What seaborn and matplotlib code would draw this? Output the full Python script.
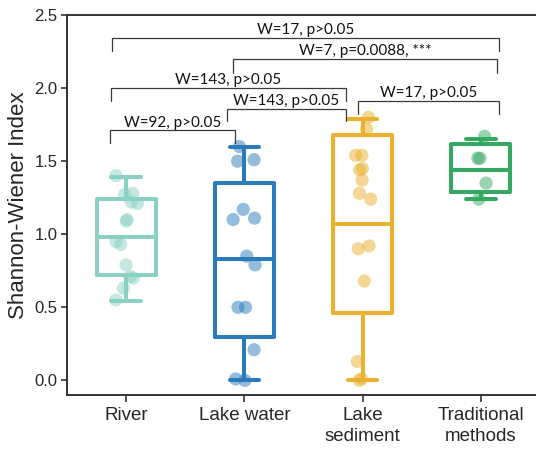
import numpy as np
import pandas as pd
import matplotlib
matplotlib.use("Agg")
import matplotlib.pyplot as plt
import seaborn as sns

# ---------------- data ----------------
groups = ["River", "Lake water", "Lake sediment", "Traditional methods"]
tick_labels = ["River", "Lake water", "Lake\nsediment", "Traditional\nmethods"]
colors = ["#8AD1C4", "#2B7BBA", "#EBB12E", "#35A862"]

# individual samples (Shannon-Wiener index)
river_pts = [1.40, 1.28, 1.27, 1.22, 1.21, 1.10, 1.09, 0.95, 0.93, 0.79, 0.71, 0.70, 0.63, 0.55]
lakewater_pts = [1.60, 1.51, 1.50, 1.17, 1.11, 1.10, 0.85, 0.79, 0.50, 0.50, 0.21, 0.01, 0.00]
sediment_pts = [1.80, 1.72, 1.54, 1.54, 1.45, 1.44, 1.37, 1.28, 1.24, 0.92, 0.90, 0.68, 0.13, 0.01, 0.00]
traditional_pts = [1.67, 1.52, 1.52, 1.35, 1.24]

# box summaries: min, Q1, median, Q3, max
river_box = [0.54, 0.72, 0.98, 1.24, 1.39]
lakewater_box = [0.00, 0.30, 0.83, 1.35, 1.60]
sediment_box = [0.00, 0.46, 1.07, 1.68, 1.79]
traditional_box = [1.24, 1.29, 1.44, 1.62, 1.65]

# pairwise test annotations
br_x1 = [-0.12, 0.90, -0.13, 0.85, 1.96, -0.14]
br_x2 = [3.15, 3.14, 1.86, 1.86, 3.15, 0.92]
br_y = [2.346, 2.197, 2.003, 1.860, 1.913, 1.710]
br_drop_l = [0.090, 0.091, 0.089, 0.082, 0.091, 0.087]
br_drop_r = [0.090, 0.091, 0.089, 0.082, 0.089, 0.087]
br_text = ["W=17, p>0.05", "W=7, p=0.0088, ***", "W=143, p>0.05",
           "W=143, p>0.05", "W=17, p>0.05", "W=92, p>0.05"]

pts_df = pd.DataFrame({
    "group": sum([[g] * len(v) for g, v in zip(groups, [river_pts, lakewater_pts, sediment_pts, traditional_pts])], []),
    "value": river_pts + lakewater_pts + sediment_pts + traditional_pts,
})
box_df = pd.DataFrame({
    "group": sum([[g] * 5 for g in groups], []),
    "value": river_box + lakewater_box + sediment_box + traditional_box,
})

# ---------------- plot ----------------
sns.set_theme(style="white")
plt.rcParams["font.family"] = ["Liberation Sans", "DejaVu Sans"]

fig = plt.figure(figsize=(5.36, 4.55), dpi=100)
ax = fig.add_axes([67 / 536, 60 / 455, (540 - 67) / 536, 380 / 455])

pal = dict(zip(groups, colors))
sns.boxplot(data=box_df, x="group", y="value", hue="group", order=groups, hue_order=groups,
            palette=pal, fill=False, width=0.5, linewidth=2.9, whis=np.inf,
            showfliers=False, legend=False, ax=ax, zorder=2)

np.random.seed(7)
sns.stripplot(data=pts_df, x="group", y="value", hue="group", order=groups, hue_order=groups,
              palette=pal, jitter=0.1, size=9.5, alpha=0.5, linewidth=0,
              legend=False, ax=ax, zorder=3)

for x1, x2, y, dl, dr, t in zip(br_x1, br_x2, br_y, br_drop_l, br_drop_r, br_text):
    ax.plot([x1, x1, x2, x2], [y - dl, y, y, y - dr], color="#3a3a3a", lw=0.9,
            solid_joinstyle="miter", zorder=4)
    ax.text((x1 + x2) / 2, y + 0.027, t, ha="center", va="baseline",
            fontsize=11, family=["Lato", "DejaVu Sans"], color="#111111")

ax.set_xlim(-0.5, 3.5)
ax.set_ylim(-0.1, 2.5)
ax.set_yticks([0.0, 0.5, 1.0, 1.5, 2.0, 2.5])
ax.set_yticklabels(["0.0", "0.5", "1.0", "1.5", "2.0", "2.5"], fontsize=12)
ax.set_xticks(range(4))
ax.set_xticklabels(tick_labels, fontsize=13.5, linespacing=1.25)
ax.set_xlabel("")
ax.set_ylabel("Shannon-Wiener Index", fontsize=16, labelpad=4)

for s in ax.spines.values():
    s.set_visible(True)
    s.set_color("#333333")
    s.set_linewidth(1.4)
ax.tick_params(axis="y", direction="out", length=4, width=1.2, color="#333333", pad=3, left=True)
ax.tick_params(axis="x", direction="out", length=5, width=1.2, color="#333333", pad=4, bottom=True)

fig.savefig("out.png", dpi=100)
